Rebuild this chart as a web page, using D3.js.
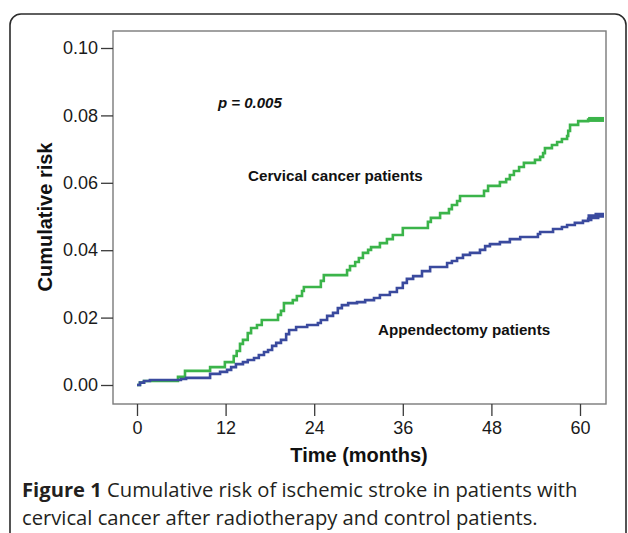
<!DOCTYPE html>
<html>
<head>
<meta charset="utf-8">
<script src="https://cdn.jsdelivr.net/npm/d3@7"></script>
<style>
  body { margin:0; background:#fff; }
  svg text { font-family: "Liberation Sans", Arial, sans-serif; }
  svg text.caption { font-family: "Open Sans", "Noto Sans", sans-serif; }
</style>
</head>
<body>
<svg id="chart" width="628" height="533"></svg>
<script>
// Cumulative risk (months, risk after each step)
var cervicalMonths = [0,0.4,0.95,5.55,6.5,9.9,11.9,13.1,13.5,13.95,14.35,15.0,15.45,16.25,16.9,19.1,19.5,19.9,21.1,21.65,22.35,22.6,24.9,25.3,28.45,28.85,29.55,30.05,30.6,31.3,31.7,32.9,33.85,34.65,36.0,39.4,39.8,41.05,42.25,42.65,43.35,43.75,47.0,47.55,49.15,50.0,50.5,51.05,51.75,52.4,53.9,54.6,55.0,55.25,56.2,56.9,57.55,58.25,58.4,58.65,59.75,61.1,63.25];
var cervicalRisk   = [0,0.0007,0.0012,0.0024,0.0042,0.0053,0.0068,0.0086,0.0101,0.0122,0.0134,0.0154,0.0169,0.0178,0.0193,0.0208,0.022,0.0243,0.0252,0.0264,0.0279,0.0291,0.0309,0.0326,0.0341,0.0353,0.0365,0.0377,0.0392,0.0401,0.0409,0.0421,0.0433,0.0445,0.0466,0.0484,0.0496,0.051,0.0522,0.0534,0.0546,0.0561,0.0576,0.0591,0.0602,0.0611,0.0623,0.0635,0.0647,0.0659,0.0668,0.0677,0.0688,0.0703,0.0712,0.0721,0.073,0.0739,0.0754,0.0772,0.0783,0.0788,0.0788];

var appendMonths = [0,0.4,0.95,1.75,5.95,6.65,9.9,11.25,12.2,12.75,13.4,14.35,15.0,15.85,16.5,17.2,17.75,18.3,18.85,19.5,20.2,20.6,21.55,23.05,24.5,24.9,25.75,26.55,27.2,27.75,28.6,29.8,30.9,32.1,32.9,34.25,35.2,36.0,36.55,37.4,38.6,39.7,42.0,42.65,43.35,44.15,45.1,46.45,47.15,47.8,49.15,50.5,51.9,54.3,54.6,56.35,57.55,58.25,59.3,60.4,61.1,61.35,62.3,63.25];
var appendRisk   = [0,0.0007,0.0012,0.0015,0.0018,0.0021,0.0033,0.0039,0.0045,0.0053,0.0062,0.0068,0.0074,0.008,0.0089,0.0098,0.0104,0.0116,0.0125,0.0134,0.0151,0.0163,0.0172,0.0178,0.0184,0.0193,0.0205,0.0214,0.0228,0.0237,0.0243,0.0246,0.0252,0.0258,0.0267,0.0276,0.0288,0.0303,0.0315,0.0323,0.0338,0.035,0.0362,0.0368,0.0377,0.0386,0.0392,0.0401,0.0412,0.0418,0.0424,0.0433,0.0439,0.0448,0.0454,0.0463,0.0469,0.0475,0.0481,0.0487,0.0493,0.0499,0.0504,0.0504];

var xTicks = [0,12,24,36,48,60];
var yTicks = [0,0.02,0.04,0.06,0.08,0.10];
var censorFrom = 61;

var svg = d3.select("#chart");

// outer figure box
svg.append("rect").attr("x",10).attr("y",14).attr("width",616).attr("height",540)
   .attr("rx",11).attr("ry",11)
   .attr("fill","none").attr("stroke","#2b2b2b").attr("stroke-width",1.6);

var frame = {left:113, top:31, right:606, bottom:404};
var x = d3.scaleLinear().domain([0,60]).range([137,580]);
var y = d3.scaleLinear().domain([0,0.10]).range([385,48]);

svg.append("rect").attr("x",frame.left).attr("y",frame.top)
   .attr("width",frame.right-frame.left).attr("height",frame.bottom-frame.top)
   .attr("fill","none").attr("stroke","#7a7a7a").attr("stroke-width",1.4);

// axes
var yAxis = svg.append("g").attr("transform",`translate(${frame.left},0)`)
   .call(d3.axisLeft(y).tickValues(yTicks).tickFormat(d3.format(".2f")).tickSize(12).tickPadding(3));
var xAxis = svg.append("g").attr("transform",`translate(0,${frame.bottom})`)
   .call(d3.axisBottom(x).tickValues(xTicks).tickSize(12).tickPadding(5));
[yAxis,xAxis].forEach(function(a){
  a.select(".domain").remove()
  a.selectAll("line").attr("stroke","#3a3a3a").attr("stroke-width",1.3)
  a.selectAll("text").attr("font-size",18).attr("fill","#1a1a1a")
    .style("font-family","'Liberation Sans', Arial, sans-serif")
})

svg.append("text").attr("x",359).attr("y",462).attr("text-anchor","middle")
   .attr("font-size",20).attr("font-weight","bold").attr("fill","#111").text("Time (months)");
svg.append("text").attr("transform","translate(52,217) rotate(-90)").attr("text-anchor","middle")
   .attr("font-size",20).attr("font-weight","bold").attr("fill","#111").text("Cumulative risk");

// curves
function pairs(ms, rs){ return ms.map(function(m,i){ return [m, rs[i]] }) }
var line = d3.line().x(d=>x(d[0])).y(d=>y(d[1])).curve(d3.curveStepAfter);

var series = [
  {data:pairs(cervicalMonths,cervicalRisk), color:"#3bb44a"},
  {data:pairs(appendMonths,appendRisk), color:"#3a4a9e"}
];
series.forEach(function(s){
  svg.append("path").attr("d",line(s.data)).attr("fill","none")
     .attr("stroke",s.color).attr("stroke-width",2.6).attr("stroke-linejoin","miter");
  var tail = s.data.filter(d=>d[0]>=censorFrom);
  svg.append("path").attr("d",line(tail)).attr("fill","none")
     .attr("stroke",s.color).attr("stroke-width",5);
})

// annotations
svg.append("text").attr("x",218).attr("y",108).attr("font-size",15)
   .attr("font-weight","bold").attr("font-style","italic").attr("fill","#111").text("p = 0.005");
svg.append("text").attr("x",248).attr("y",181).attr("font-size",15.2)
   .attr("font-weight","bold").attr("fill","#111").text("Cervical cancer patients");
svg.append("text").attr("x",378).attr("y",335).attr("font-size",15.2)
   .attr("font-weight","bold").attr("fill","#111").text("Appendectomy patients");

// caption
var l1 = svg.append("text").attr("class","caption").attr("x",22).attr("y",497)
   .attr("font-size",20.2).attr("fill","#231f20");
l1.append("tspan").attr("font-weight","bold").text("Figure 1");
l1.append("tspan").text(" Cumulative risk of ischemic stroke in patients with");
svg.append("text").attr("class","caption").attr("x",22).attr("y",525).attr("font-size",20.2)
   .attr("fill","#231f20").text("cervical cancer after radiotherapy and control patients.");
</script>
</body>
</html>
